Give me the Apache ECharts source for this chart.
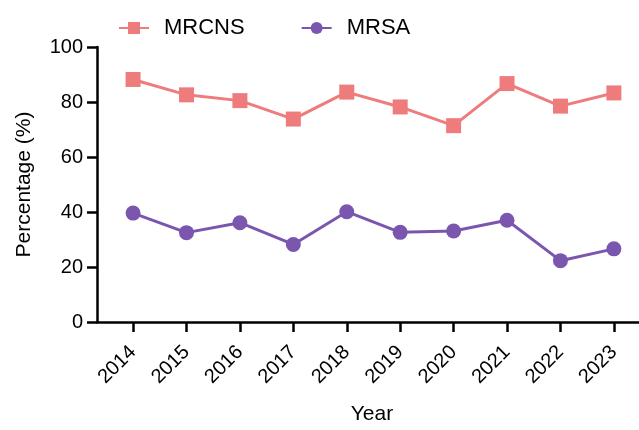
<!DOCTYPE html>
<html>
<head>
<meta charset="utf-8">
<script src="https://cdn.jsdelivr.net/npm/echarts@6/dist/echarts.min.js"></script>
<style>
  html, body { margin: 0; padding: 0; background: #fff; }
  #chart { width: 639px; height: 430px; }
</style>
</head>
<body>
<div id="chart"></div>
<script>
// data
var years = [2014, 2015, 2016, 2017, 2018, 2019, 2020, 2021, 2022, 2023];
var mrcns = [88.2, 82.6, 80.5, 73.8, 83.6, 78.2, 71.4, 86.7, 78.5, 83.3];
var mrsa = [39.6, 32.5, 36.1, 28.2, 40.1, 32.6, 33.1, 37.0, 22.3, 26.6];
var yTicks = [0, 20, 40, 60, 80, 100];

function pairs(vals) {
  return years.map(function (y, i) { return [y, vals[i]]; });
}

var font = 'Liberation Sans, Arial, sans-serif';
var chart = echarts.init(document.getElementById('chart'));

var option = {
  animation: false,
  backgroundColor: '#fff',
  legend: {
    left: 113,
    top: 12,
    itemWidth: 30,
    itemHeight: 15,
    itemGap: 56,
    textStyle: { fontFamily: font, fontSize: 22, color: '#000', padding: [0, 0, 0, 10] },
    data: ['MRCNS', 'MRSA']
  },
  grid: { left: 97, right: 0, top: 47, bottom: 102, containLabel: false },
  xAxis: {
    type: 'value',
    min: 2013.325,
    max: 2023.47,
    name: 'Year',
    nameLocation: 'middle',
    nameGap: 82,
    nameTextStyle: { fontFamily: font, fontSize: 21, color: '#000', padding: [0, 0, 0, 8] },
    splitLine: { show: false },
    axisLine: { show: true, lineStyle: { color: '#000', width: 2.5 } },
    axisTick: { show: true, length: 10, customValues: years, lineStyle: { color: '#000', width: 2.5 } },
    axisLabel: {
      customValues: years,
      rotate: 45,
      margin: 27,
      fontFamily: font,
      fontSize: 20,
      color: '#000',
      formatter: function (v) { return String(v); }
    }
  },
  yAxis: {
    type: 'value',
    min: 0,
    max: 100,
    interval: 20,
    name: 'Percentage (%)',
    nameLocation: 'middle',
    nameGap: 62,
    nameTextStyle: { fontFamily: font, fontSize: 21, color: '#000' },
    splitLine: { show: false },
    axisLine: { show: true, lineStyle: { color: '#000', width: 2.5 } },
    axisTick: { show: true, length: 10, lineStyle: { color: '#000', width: 2.5 } },
    axisLabel: {
      margin: 14,
      fontFamily: font,
      fontSize: 20,
      color: '#000',
      formatter: function (v) { return yTicks.indexOf(v) >= 0 ? String(v) : ''; }
    }
  },
  series: [
    {
      name: 'MRCNS',
      type: 'line',
      data: pairs(mrcns),
      symbol: 'rect',
      symbolSize: 15,
      color: '#EF7C7C',
      lineStyle: { width: 3, color: '#EF7C7C' },
      itemStyle: { color: '#EF7C7C' }
    },
    {
      name: 'MRSA',
      type: 'line',
      data: pairs(mrsa),
      symbol: 'circle',
      symbolSize: 15,
      color: '#7B56AF',
      lineStyle: { width: 3, color: '#7B56AF' },
      itemStyle: { color: '#7B56AF' }
    }
  ]
};

chart.setOption(option);
</script>
</body>
</html>
